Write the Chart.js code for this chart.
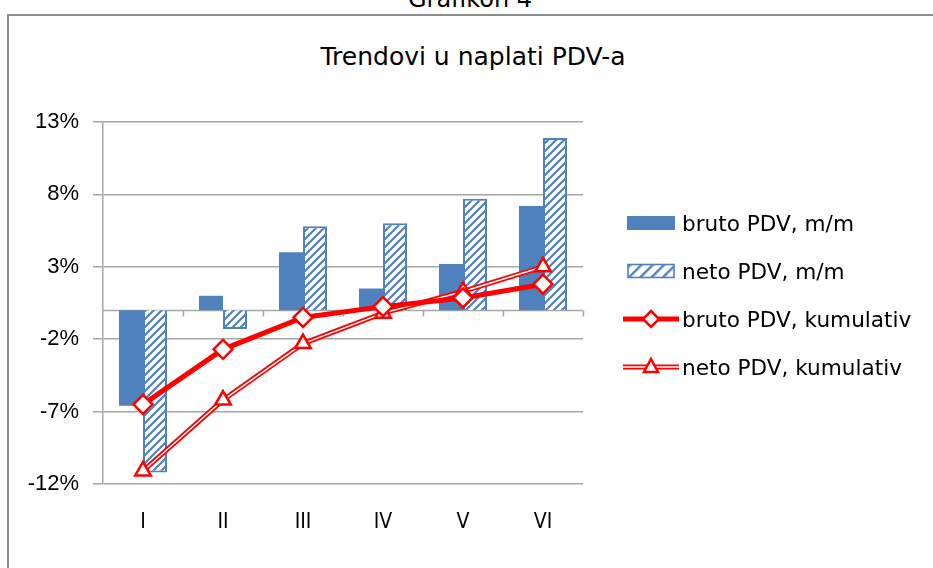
<!DOCTYPE html>
<html>
<head>
<meta charset="utf-8">
<script src="https://cdn.jsdelivr.net/npm/chart.js@4.4.1/dist/chart.umd.min.js"></script>
<style>
  body { margin: 0; width: 933px; height: 568px; overflow: hidden; background: #fff; position: relative;
         font-family: "DejaVu Sans", sans-serif; color: #000; }
  #frame { position: absolute; left: 7px; top: 14px; width: 930px; height: 560px;
           border-top: 2px solid #8c8c8c; border-left: 2px solid #8c8c8c; }
  #caption { position: absolute; left: 0; top: -14px; width: 940px; text-align: center;
             font-size: 24px; line-height: 27px; }
  #title { position: absolute; left: 0; top: 41px; width: 946px; text-align: center;
           font-size: 25px; line-height: 32px; }
  #chart { position: absolute; left: 0; top: 0; }
  .leg { position: absolute; left: 623px; height: 24px; display: flex; align-items: center;
         font-size: 21.6px; white-space: nowrap; }
  .leg svg { width: 56px; height: 24px; margin-right: 3px; flex: none; }
</style>
</head>
<body>
<div id="caption">Grafikon 4</div>
<div id="frame"></div>
<div id="title">Trendovi u naplati PDV-a</div>
<canvas id="chart" width="933" height="568"></canvas>
<div id="legend"></div>

<script>
// data (percent)
const categories = ['I', 'II', 'III', 'IV', 'V', 'VI'];
const brutoMM = [-6.6, 1.0, 4.0, 1.5, 3.2, 7.2];
const netoMM = [-11.2, -1.3, 5.8, 6.0, 7.7, 11.9];
const brutoKum = [-6.5, -2.7, -0.5, 0.25, 0.85, 1.8];
const netoKum = [-11.1, -6.2, -2.3, -0.2, 1.3, 3.0];
const yTicks = [-12, -7, -2, 3, 8, 13];

const labels = {
    brutoMM: 'bruto PDV, m/m',
    netoMM: 'neto PDV, m/m',
    brutoKum: 'bruto PDV, kumulativ',
    netoKum: 'neto PDV, kumulativ'
};

const BLUE = '#4f81bd';
const RED = '#ff0000';
const GRID = '#a6a6a6';

// diagonal hatch for the neto bars
function makeHatch() {
    const c = document.createElement('canvas');
    c.width = 8; c.height = 8;
    const g = c.getContext('2d');
    g.fillStyle = '#fff';
    g.fillRect(0, 0, 8, 8);
    g.strokeStyle = BLUE;
    g.lineWidth = 2.2;
    g.beginPath();
    g.moveTo(0, 8); g.lineTo(8, 0);
    g.moveTo(-2, 2); g.lineTo(2, -2);
    g.moveTo(6, 10); g.lineTo(10, 6);
    g.stroke();
    return g.createPattern(c, 'repeat');
}

// category axis drawn at zero, as in the original
const zeroAxis = {
    id: 'zeroAxis',
    beforeDatasetsDraw(chart) {
        const { ctx, chartArea, scales } = chart;
        const y0 = Math.round(scales.y.getPixelForValue(0)) + 0.5;
        const step = (chartArea.right - chartArea.left) / categories.length;
        ctx.save();
        ctx.strokeStyle = GRID;
        ctx.lineWidth = 1.5;
        ctx.beginPath();
        ctx.moveTo(chartArea.left, y0);
        ctx.lineTo(chartArea.right, y0);
        for (let i = 1; i <= categories.length; i++) {
            const px = Math.round(chartArea.left + step * i) + 0.5;
            ctx.moveTo(px, y0);
            ctx.lineTo(px, y0 + 6);
        }
        ctx.stroke();
        ctx.restore();
    }
};

const ctx = document.getElementById('chart').getContext('2d');
const hatch = makeHatch();

new Chart(ctx, {
    data: {
        labels: categories,
        datasets: [
            {
                type: 'line', label: labels.brutoKum, data: brutoKum, order: 0,
                borderColor: RED, borderWidth: 5, tension: 0,
                pointStyle: 'rectRot', pointRadius: 9.5,
                pointBackgroundColor: '#fff', pointBorderColor: RED, pointBorderWidth: 2.5
            },
            {
                type: 'line', label: labels.netoKum, data: netoKum, order: 1,
                borderColor: '#fff', borderWidth: 1.5, tension: 0,
                pointStyle: 'triangle', pointRadius: 9,
                pointBackgroundColor: '#fff', pointBorderColor: RED, pointBorderWidth: 2.5
            },
            {
                // red outer stroke of the double line
                type: 'line', label: '', data: netoKum, order: 2,
                borderColor: RED, borderWidth: 5, tension: 0, pointRadius: 0
            },
            {
                type: 'bar', label: labels.brutoMM, data: brutoMM, order: 3,
                backgroundColor: BLUE, borderWidth: 0,
                categoryPercentage: 0.6, barPercentage: 1.0
            },
            {
                type: 'bar', label: labels.netoMM, data: netoMM, order: 4,
                backgroundColor: hatch, borderColor: BLUE, borderWidth: 2,
                categoryPercentage: 0.6, barPercentage: 1.0
            }
        ]
    },
    options: {
        responsive: false,
        animation: false,
        layout: { padding: { top: 122, right: 350, left: 0, bottom: 0 } },
        plugins: {
            legend: { display: false },
            tooltip: { enabled: false },
            title: { display: false }
        },
        scales: {
            x: {
                grid: { display: false },
                border: { display: false },
                ticks: {
                    color: '#000', padding: 18,
                    font: { family: "'DejaVu Sans Condensed', 'DejaVu Sans'", size: 21 }
                },
                afterFit: (s) => { s.height = 84; }
            },
            y: {
                min: -12, max: 13,
                grid: { color: GRID, lineWidth: 1.5, tickLength: 10 },
                border: { color: GRID, width: 1.5 },
                ticks: {
                    color: '#000', padding: 14,
                    font: { family: "'Liberation Sans'", size: 22 },
                    callback: (v) => v + '%'
                },
                afterBuildTicks: (s) => { s.ticks = yTicks.map(v => ({ value: v })); },
                afterFit: (s) => { s.width = 103; }
            }
        }
    },
    plugins: [zeroAxis]
});

// legend, laid out like the Excel one on the right
const legendSymbols = {
    bar: `<svg viewBox="0 0 56 24"><rect x="4" y="5" width="48" height="14" fill="${BLUE}"/></svg>`,
    hatch: `<svg viewBox="0 0 56 24"><defs><pattern id="hp" width="8" height="8" patternUnits="userSpaceOnUse" patternTransform="rotate(45)"><rect width="8" height="8" fill="#fff"/><rect x="0" y="0" width="2.4" height="8" fill="${BLUE}"/></pattern></defs><rect x="5" y="5.5" width="46" height="13" fill="url(#hp)" stroke="${BLUE}" stroke-width="1.6"/></svg>`,
    diamond: `<svg viewBox="0 0 56 24"><line x1="0" y1="12" x2="56" y2="12" stroke="${RED}" stroke-width="5"/><path d="M28 4 L36 12 L28 20 L20 12 Z" fill="#fff" stroke="${RED}" stroke-width="2.5"/></svg>`,
    triangle: `<svg viewBox="0 0 56 24"><line x1="0" y1="12" x2="56" y2="12" stroke="${RED}" stroke-width="5"/><line x1="0" y1="12" x2="56" y2="12" stroke="#fff" stroke-width="1.5"/><path d="M28 4 L35 17 L21 17 Z" fill="#fff" stroke="${RED}" stroke-width="2.5"/></svg>`
};
const legendRows = [
    [legendSymbols.bar, labels.brutoMM, 223],
    [legendSymbols.hatch, labels.netoMM, 271],
    [legendSymbols.diamond, labels.brutoKum, 319],
    [legendSymbols.triangle, labels.netoKum, 367]
];
const legendEl = document.getElementById('legend');
legendRows.forEach(([sym, text, cy]) => {
    const row = document.createElement('div');
    row.className = 'leg';
    row.style.top = (cy - 12) + 'px';
    row.innerHTML = sym + '<span>' + text + '</span>';
    legendEl.appendChild(row);
});
</script>
</body>
</html>
